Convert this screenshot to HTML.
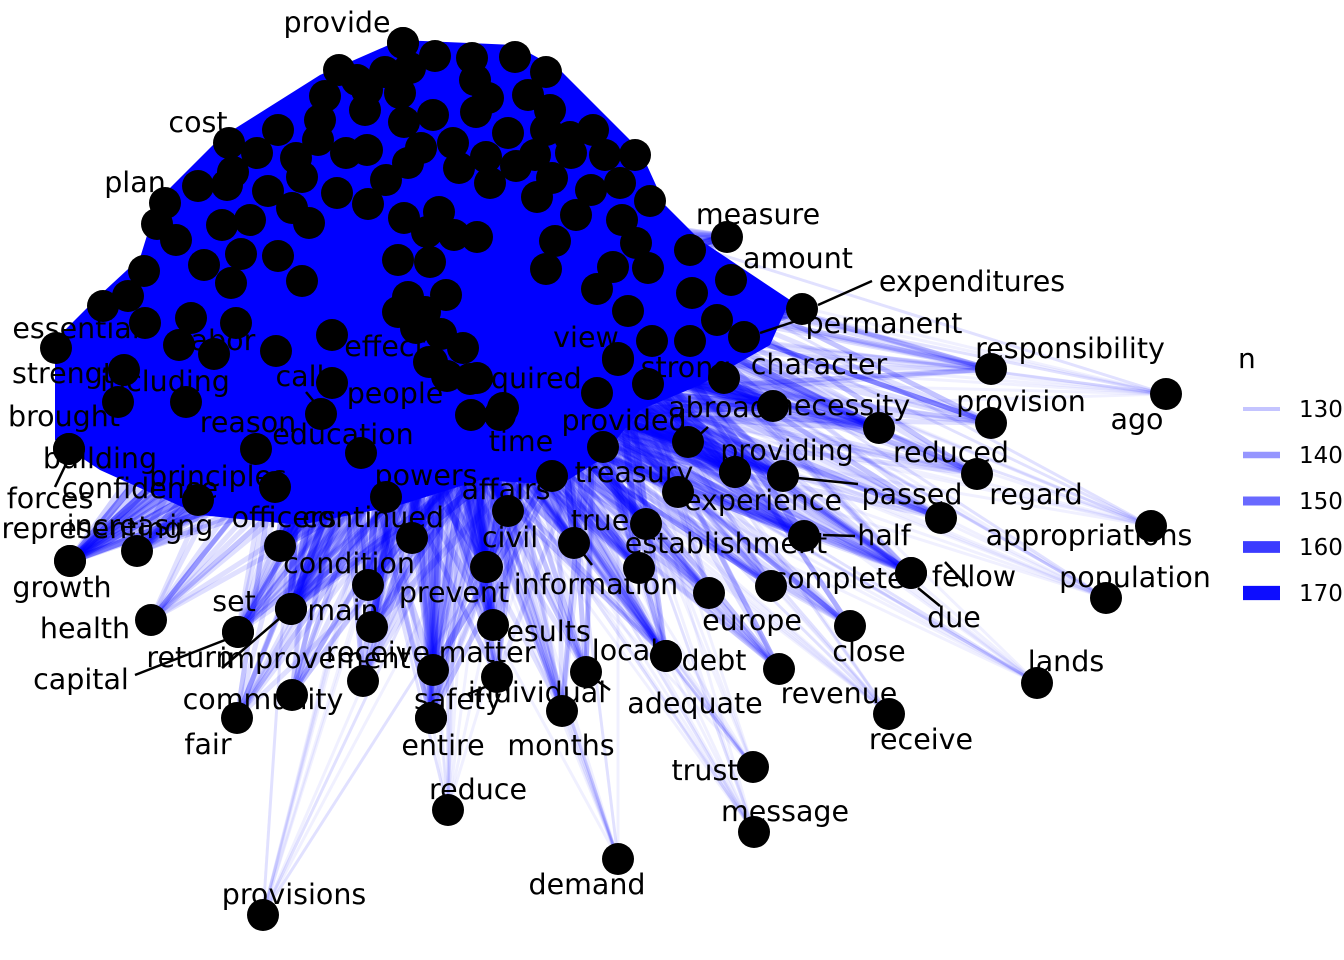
<!DOCTYPE html>
<html><head><meta charset="utf-8"><style>
html,body{margin:0;padding:0;background:#fff;}
svg{display:block;font-family:"DejaVu Sans","Liberation Sans",sans-serif;}
</style></head><body>
<svg id="chart" width="1344" height="960" viewBox="0 0 1344 960">
<g id="edges"></g>
<g id="nodes"></g>
<g id="labels"></g>
<g id="legend"></g>
</svg>
<script>
// core cluster node layout coordinates (unlabeled)
const coreX=[403,435,472,515,546,339,357,385,410,475,367,400,325,488,528,550,433,476,404,320,365,278,257,296,318,346,367,408,421,453,486,508,535,546,570,593,571,605,635,620,591,552,516,490,459,386,337,302,268,233,227,198,157,176,222,250,292,309,368,404,439,427,454,477,537,576,622,650,555,636,278,241,204,144,231,302,398,430,546,613,648,597,408,446,425,398,628,103,128,145,191,332,416,441,463,652,179,214,276,432,447,477,503,471,500,597,618,648,690,717,692,690];
const coreY=[43,56,58,57,72,70,80,72,68,80,90,93,96,98,95,110,115,112,122,120,110,130,153,158,140,153,150,163,148,143,157,133,155,130,137,130,153,155,155,183,190,178,166,183,168,180,193,177,191,172,185,186,224,240,225,220,208,223,204,218,212,232,235,237,197,215,220,201,241,243,256,254,265,271,283,281,260,262,269,267,268,289,297,295,312,312,311,306,296,323,318,335,328,334,348,341,345,354,351,362,376,378,408,415,415,393,360,384,250,320,293,341];
// labeled nodes
const labels=["provide","cost","plan","measure","amount","expenditures","permanent","essential","strength","brought","building","forces","confidence","representing","increasing","growth","health","set","capital","return","improvement","community","fair","main","receive","matter","safety","entire","individual","months","reduce","demand","provisions","results","local","adequate","debt","trust","message","europe","revenue","receive","close","lands","complete","fellow","due","population","appropriations","regard","passed","half","establishment","experience","reduced","providing","necessity","abroad","character","responsibility","provision","ago","strong","view","provided","treasury","true","information","prevent","civil","affairs","continued","condition","officers","powers","time","education","principles","reason","call","people","effect","required","labor","including"];
const nodeX=[403,229,165,727,731,802,744,56,124,118,69,69,198,70,137,70,151,238,238,291,291,292,237,372,363,433,431,431,497,562,448,618,263,493,666,586,666,753,754,709,779,889,850,1037,771,911,911,1106,1151,941,783,804,639,735,977,735,879,688,773,991,991,1166,724,618,603,678,646,574,487,486,508,412,368,280,386,552,361,275,256,321,332,429,470,236,186];
const nodeY=[43,143,203,237,280,309,337,348,370,402,449,449,500,561,551,561,620,632,632,609,609,695,718,627,681,670,718,718,677,711,810,859,915,625,656,672,656,767,832,593,669,714,626,683,586,573,573,598,526,518,476,536,568,472,474,472,428,442,406,369,423,394,378,358,447,492,524,543,567,567,511,538,585,546,497,476,453,487,449,414,383,362,379,323,402];
const labelX=[337,198,135,758,798,972,884,76,72,64,100,50,140,92,140,62,85,234,81,190,315,263,208,343,378,487,458,443,537,561,478,587,294,543,625,695,714,705,785,752,839,921,869,1066,838,974,954,1135,1089,1036,912,884,726,763,951,787,843,718,819,1070,1021,1137,686,586,624,634,600,596,454,510,506,373,349,284,426,521,343,218,248,300,395,385,522,219,165];
const labelY=[22,122,182,214,258,281,323,328,373,416,458,498,488,528,525,587,628,601,679,657,658,699,744,610,652,652,699,745,692,745,789,884,894,631,650,703,660,770,811,620,693,739,651,661,578,576,617,577,535,494,494,535,543,500,452,450,405,407,364,348,401,419,367,337,420,472,520,584,592,537,489,517,563,517,475,441,434,476,422,376,393,346,378,340,381];
const weights=[170,160,160,150,150,150,160,160,160,160,160,150,160,150,150,150,140,140,140,150,150,140,140,150,140,150,140,140,140,140,130,130,130,150,140,140,140,130,130,140,140,130,140,130,140,140,140,130,130,140,150,150,150,150,140,150,150,160,160,140,140,130,160,170,160,150,150,150,150,150,160,160,150,160,160,170,160,160,160,170,170,170,170,160,160];
// leader lines: [fromX,fromY,toX,toY]
const leaders=[[760,333,805,318],[818,305,872,281],[55,487,67,462],[135,675,225,640],[222,668,280,618],[468,694,490,685],[610,690,596,680],[855,536,823,535],[858,484,798,478],[968,587,945,562],[940,606,918,588],[708,427,697,437],[306,392,316,404],[592,565,582,552]];
const legendVals=[130,140,150,160,170];

const NS="http://www.w3.org/2000/svg";
function mk(t,a,p){const e=document.createElementNS(NS,t);for(const k in a)e.setAttribute(k,a[k]);p.appendChild(e);return e;}
function wOf(n){return 3+(n-130)*0.2;}
function aOf(n){return 0.2+(n-130)/40*0.8;}
const eg=document.getElementById('edges');
const blob=mk('polygon',{points:"400,40 515,45 560,70 640,150 665,205 700,240 790,300 770,345 700,385 640,410 600,460 560,485 480,480 400,505 300,525 200,515 100,470 55,440 55,340 100,295 140,258 158,200 220,138 320,75",fill:"#0000ff"},eg);


for(let i=0;i<coreX.length;i++){for(let j=i+7;j<coreX.length;j+=11){
 const l=mk('line',{x1:coreX[i],y1:coreY[i],x2:coreX[j],y2:coreY[j],stroke:"#0000ff","stroke-opacity":0.5,"stroke-width":4},eg);
 
 
}}
const hubs=[];
for(let j=0;j<coreX.length;j++){if(coreX[j]>300&&coreX[j]<620&&coreY[j]>190&&coreY[j]<420)hubs.push(j);}
for(let i=0;i<labels.length;i++){
 for(let k=0;k<14;k++){const j=hubs[(i*5+k*3)%hubs.length];
  const l=mk('line',{x1:nodeX[i],y1:nodeY[i],x2:coreX[j],y2:coreY[j],stroke:"#0000ff","stroke-opacity":aOf(weights[i])*0.3,"stroke-width":wOf(weights[i])},eg);
  
  
 }
}
const ng=document.getElementById('nodes');
for(let i=0;i<coreX.length;i++){const c=mk('circle',{cx:coreX[i],cy:coreY[i],r:16,fill:"#000"},ng);
 
 }
for(let i=0;i<labels.length;i++){const c=mk('circle',{cx:nodeX[i],cy:nodeY[i],r:16,fill:"#000"},ng);
 
 }
const lg=document.getElementById('labels');
for(const s of leaders){const l=mk('line',{x1:s[0],y1:s[1],x2:s[2],y2:s[3],stroke:"#000","stroke-width":2.5},lg);
 
 }
for(let i=0;i<labels.length;i++){const t=mk('text',{x:labelX[i],y:labelY[i]+10,"text-anchor":"middle","font-size":28.5,fill:"#000"},lg);
 t.textContent=labels[i];
 
 }
const leg=document.getElementById('legend');
const tt=mk('text',{x:1238,y:368,"font-size":28,fill:"#000"},leg);tt.textContent="n";


legendVals.forEach((v,i)=>{const y=409+i*46;
 const r=mk('line',{x1:1243,y1:y,x2:1280,y2:y,stroke:"#0000ff","stroke-opacity":aOf(v)*0.9+0.05,"stroke-width":wOf(v)*1.3},leg);
 
 
 const t=mk('text',{x:1299,y:y+8,"font-size":23,fill:"#000"},leg);t.textContent=v;
 
 
});
</script>
</body></html>
